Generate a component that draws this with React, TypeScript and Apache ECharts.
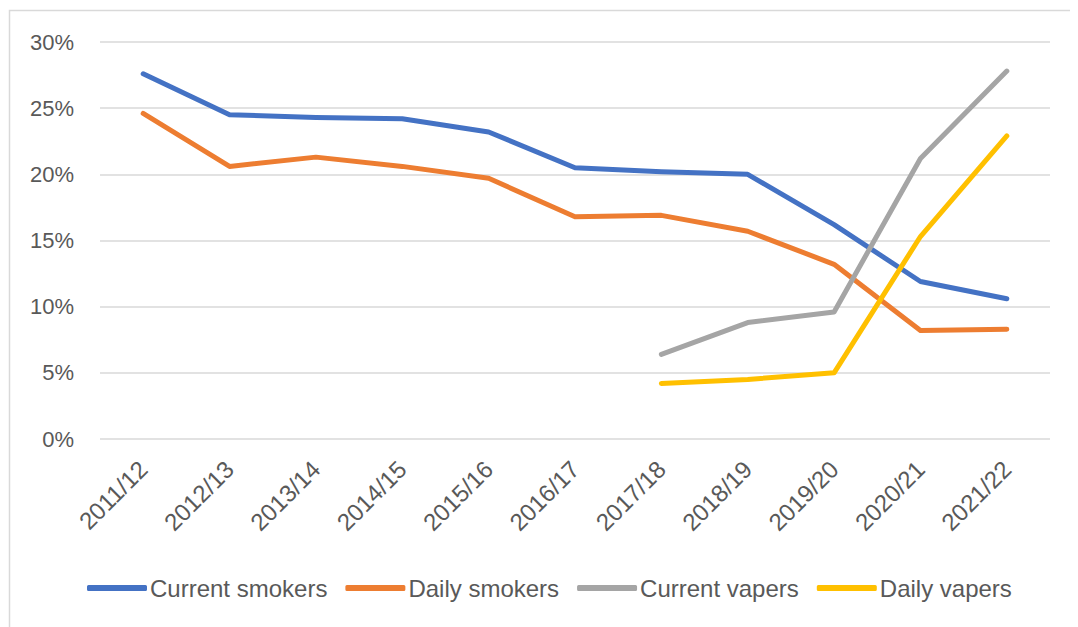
import React, { useEffect, useRef } from "react";
import * as echarts from "echarts";

const categories = ["2011/12", "2012/13", "2013/14", "2014/15", "2015/16", "2016/17", "2017/18", "2018/19", "2019/20", "2020/21", "2021/22"];
const currentSmokers = [27.6, 24.5, 24.3, 24.2, 23.2, 20.5, 20.2, 20.0, 16.2, 11.9, 10.6];
const dailySmokers = [24.6, 20.6, 21.3, 20.6, 19.7, 16.8, 16.9, 15.7, 13.2, 8.2, 8.3];
const currentVapers = [null, null, null, null, null, null, 6.4, 8.8, 9.6, 21.2, 27.8];
const dailyVapers = [null, null, null, null, null, null, 4.2, 4.5, 5.0, 15.3, 22.9];
const seriesNames = ["Current smokers", "Daily smokers", "Current vapers", "Daily vapers"];
const colors = ["#4472C4", "#ED7D31", "#A5A5A5", "#FFC000"];

export default function App() {
  const ref = useRef<HTMLDivElement>(null);
  useEffect(() => {
    if (!ref.current) return;
    const chart = echarts.init(ref.current, undefined, { renderer: "svg" });
    const font = "'Liberation Sans', Arial, sans-serif";
    const data = [currentSmokers, dailySmokers, currentVapers, dailyVapers];
    chart.setOption({
      animation: false,
      color: colors,
      graphic: [
        {
          type: "rect",
          shape: { x: 1.5, y: 2.5, width: 1062, height: 640 },
          style: { fill: "none", stroke: "#d9d9d9", lineWidth: 1.5 },
          silent: true,
        },
      ],
      grid: { left: 92, right: 22, top: 34, bottom: 188, containLabel: false },
      xAxis: {
        type: "category",
        data: categories,
        boundaryGap: true,
        axisLine: { show: false },
        axisTick: { show: false },
        axisLabel: { rotate: 45, fontSize: 24, color: "#595959", fontFamily: font, margin: 26, interval: 0 },
      },
      yAxis: {
        type: "value",
        min: 0,
        max: 30,
        interval: 5,
        axisLine: { show: false },
        axisTick: { show: false },
        splitLine: { lineStyle: { color: "#d9d9d9", width: 1.5 } },
        axisLabel: { formatter: "{value}%", fontSize: 22, color: "#595959", fontFamily: font, margin: 26 },
      },
      legend: {
        bottom: 22,
        left: 74,
        itemWidth: 60,
        itemHeight: 6,
        itemGap: 18,
        icon: "roundRect",
        textStyle: { fontSize: 24, color: "#595959", fontFamily: font, padding: [0, 0, 0, -2] },
        data: seriesNames,
      },
      series: seriesNames.map((name, i) => ({
        name,
        type: "line",
        data: data[i],
        symbol: "none",
        lineStyle: { width: 5, color: colors[i], cap: "round", join: "round" },
        itemStyle: { color: colors[i] },
        connectNulls: false,
      })),
    });
    return () => chart.dispose();
  }, []);
  return <div ref={ref} style={{ width: 1064, height: 619 }} />;
}
